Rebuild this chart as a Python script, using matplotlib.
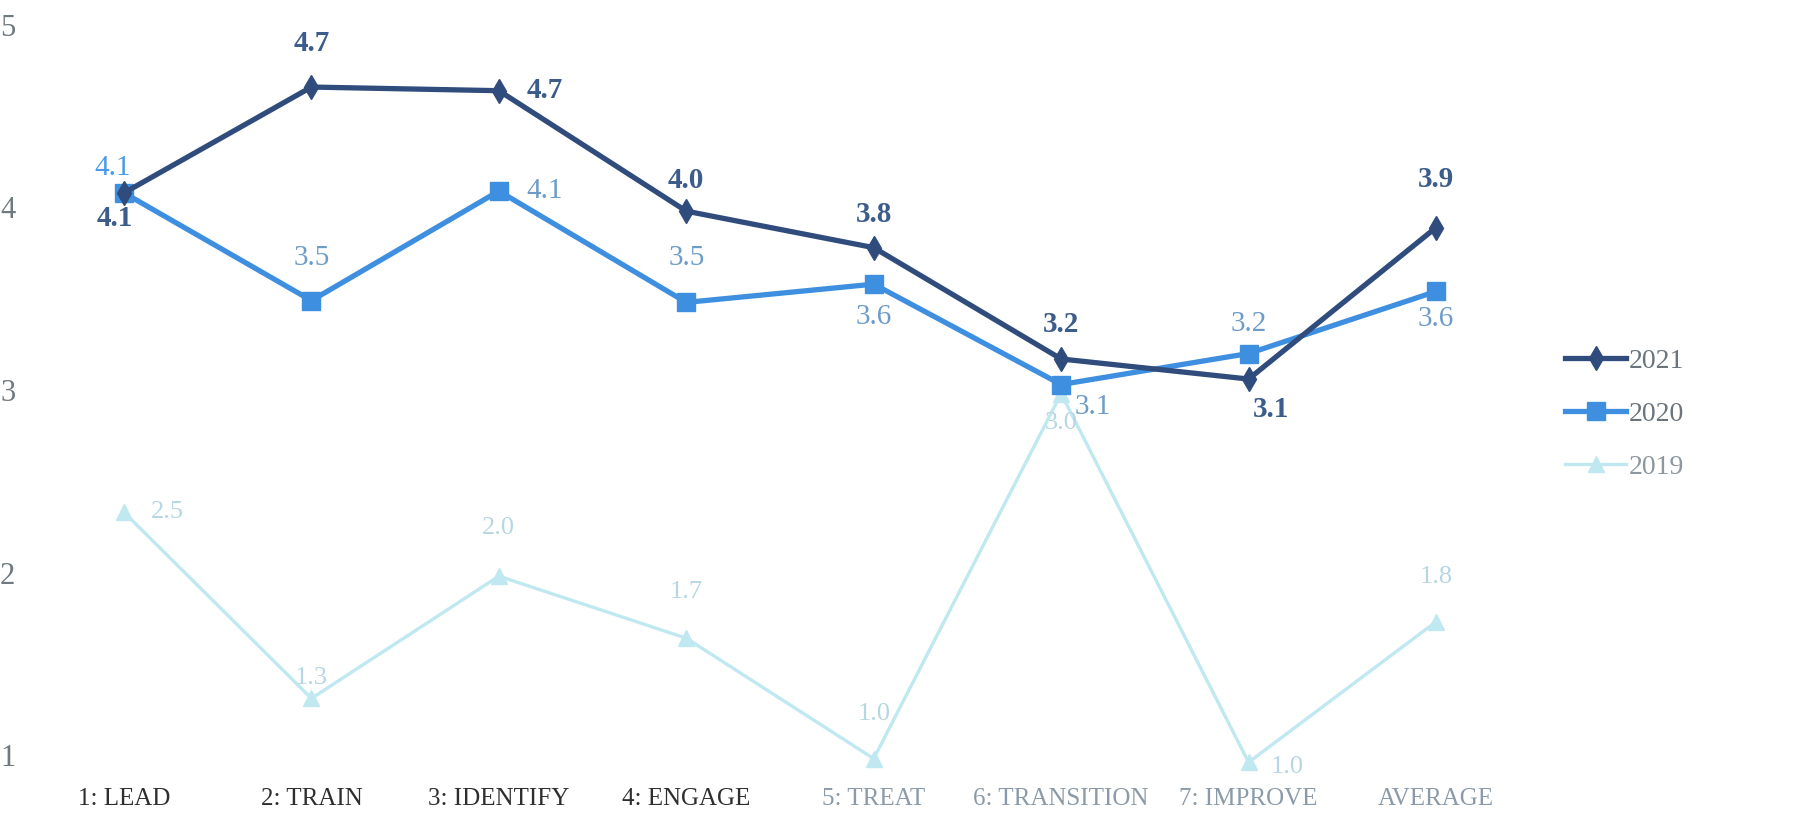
import matplotlib
matplotlib.use("Agg")
import matplotlib.pyplot as plt

categories = ["1: LEAD", "2: TRAIN", "3: IDENTIFY", "4: ENGAGE", "5: TREAT",
              "6: TRANSITION", "7: IMPROVE", "AVERAGE"]
series_names = ["2021", "2020", "2019"]
vals_2021 = [4.08, 4.66, 4.64, 3.98, 3.78, 3.17, 3.06, 3.89]
vals_2020 = [4.08, 3.49, 4.09, 3.48, 3.58, 3.03, 3.20, 3.54]
vals_2019 = [2.33, 1.31, 1.98, 1.64, 0.98, 2.98, 0.96, 1.73]
labels_2021 = ["4.1", "4.7", "4.7", "4.0", "3.8", "3.2", "3.1", "3.9"]
labels_2020 = ["4.1", "3.5", "4.1", "3.5", "3.6", "3.1", "3.2", "3.6"]
labels_2019 = ["2.5", "1.3", "2.0", "1.7", "1.0", "3.0", "1.0", "1.8"]
yticks = [1, 2, 3, 4, 5]

W, H = 1794, 816
fig = plt.figure(figsize=(W / 100, H / 100), dpi=100)
unit = (1436 - 124) / 7.0
x0 = -0.55
x1 = 7.45
left_px = 124 + x0 * unit
right_px = 124 + x1 * unit
ax = fig.add_axes([left_px / W, 1 - 755 / H, (right_px - left_px) / W, (755 - 25) / H])
ax.set_xlim(x0, x1)
ax.set_ylim(1, 5)
for s in ax.spines.values():
    s.set_visible(False)

serif = ["Liberation Serif", "DejaVu Serif"]
xs = list(range(len(categories)))

c21 = "#2f4c7c"
c20 = "#3f8fe0"
c19 = "#bfe8f0"

ax.plot(xs, vals_2019, color=c19, lw=2.4, marker="^", ms=11, clip_on=False, zorder=2, label="2019")
ax.plot(xs, vals_2020, color=c20, lw=3.8, marker="s", ms=13, clip_on=False, zorder=3, label="2020")
ax.plot(xs, vals_2021, color=c21, lw=3.8, marker="d", ms=12, clip_on=False, zorder=4, label="2021")

k = 0.824
off21 = [(-8, -22), (0, 38), (40, 0), (0, 27), (0, 29), (0, 30), (20, -27), (0, 42)]
off20 = [(-10, 22), (0, 37), (40, 0), (0, 39), (0, -29), (28, -20), (0, 26), (0, -24)]
off19 = [(38, 0), (0, 18), (0, 42), (0, 40), (0, 39), (0, -26), (34, -4), (0, 39)]
l20c = ["#4a9be8"] + ["#6d9cc8"] * 7

for i, x in enumerate(xs):
    dx, dy = off21[i]
    ax.annotate(labels_2021[i], (x, vals_2021[i]), xytext=(dx * k, dy * k), textcoords="offset points",
                ha="center", va="center", fontsize=21, fontweight="bold", color="#3c5d8c",
                family=serif, annotation_clip=False, zorder=6)
    dx, dy = off20[i]
    ax.annotate(labels_2020[i], (x, vals_2020[i]), xytext=(dx * k, dy * k), textcoords="offset points",
                ha="center", va="center", fontsize=21, color=l20c[i],
                family=serif, annotation_clip=False, zorder=6)
    dx, dy = off19[i]
    ax.annotate(labels_2019[i], (x, vals_2019[i]), xytext=(dx * k, dy * k), textcoords="offset points",
                ha="center", va="center", fontsize=19, color="#b5d6e2",
                family=serif, annotation_clip=False, zorder=6)

ax.set_yticks(yticks)
ax.set_yticklabels([str(t) for t in yticks], family=serif, fontsize=22, color="#6f7a80")
ax.tick_params(axis="y", length=0, pad=4)
ax.set_xticks(xs)
ax.set_xticklabels(categories, family=serif, fontsize=18)
ax.tick_params(axis="x", length=0, pad=24)
for i, t in enumerate(ax.get_xticklabels()):
    t.set_color("#2e2e2e" if i < 4 else "#8a9aa8")

handles, labs = ax.get_legend_handles_labels()
order = [2, 1, 0]
leg = fig.legend([handles[i] for i in order], [labs[i] for i in order],
                 loc="center left", bbox_to_anchor=(1540 / W, 1 - 414 / H),
                 frameon=False, prop={"family": serif, "size": 20},
                 handlelength=2.2, handletextpad=0.1, labelspacing=1.0)
for i, t in enumerate(leg.get_texts()):
    t.set_color("#6b747c" if i < 2 else "#8c979f")

fig.savefig("out.png", dpi=100)
